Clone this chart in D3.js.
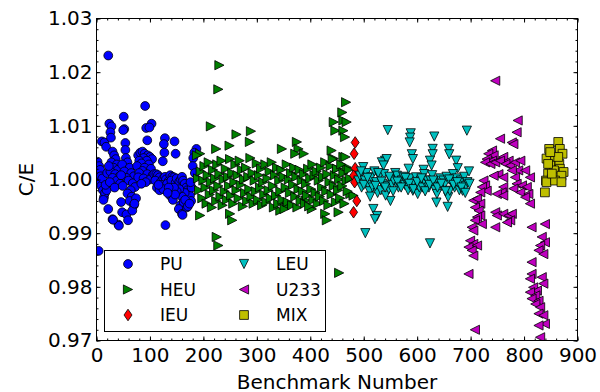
<!DOCTYPE html>
<html>
<head>
<meta charset="utf-8">
<script src="https://cdn.jsdelivr.net/npm/d3@7"></script>
<style>
  body { margin: 0; background: #fff; }
  text { font-family: "DejaVu Sans", sans-serif; fill: #000; }
</style>
</head>
<body>
<div id="chart1"></div>
<script>

// data: [benchmark number, C/E]
const puData = [
  [4,0.9867],[2,1.0033],[5,1.0025],[3,1.0012],[7,1.0018],[1,1.0000],[6,0.9994],[8,1.0006],[9,0.9988],[11,1.0002],
  [12,0.9980],[14,0.9967],[16,0.9975],[13,0.9962],[19,0.9980],[17,0.9990],[10,1.0071],[15,1.0069],[18,1.0061],[20,1.0012],
  [22,1.0231],[24,1.0104],[28,1.0099],[26,1.0088],[27,1.0078],[22,0.9945],[30,0.9926],[41,0.9916],[30,1.0052],[33,1.0045],
  [36,1.0038],[28,1.0032],[38,1.0028],[32,1.0022],[40,1.0018],[26,1.0015],[35,1.0010],[42,1.0005],[30,1.0003],[38,0.9998],
  [44,0.9992],[25,0.9995],[23,1.0025],[34,0.9985],[51,1.0117],[52,1.0094],[50,1.0092],[54,1.0068],[54,1.0055],[55,1.0040],
  [58,1.0032],[48,1.0028],[62,1.0022],[52,1.0015],[65,1.0012],[70,1.0006],[56,1.0003],[60,0.9998],[68,0.9993],[72,0.9986],
  [64,0.9980],[58,0.9974],[66,0.9968],[62,0.9960],[70,0.9952],[74,0.9965],[46,0.9958],[48,0.9939],[56,0.9935],[59,0.9924],
  [67,0.9942],[71,0.9955],[42,0.9914],[31,0.9925],[46,1.0008],[49,0.9988],[91,1.0137],[93,1.0096],[103,1.0104],[99,1.0097],
  [95,1.0073],[78,1.0045],[82,1.0050],[86,1.0052],[90,1.0048],[96,1.0045],[100,1.0042],[104,1.0038],[88,1.0040],[80,1.0035],
  [94,1.0035],[84,1.0030],[98,1.0028],[76,1.0025],[90,1.0022],[102,1.0020],[86,1.0016],[80,1.0012],[95,1.0010],[105,1.0008],
  [78,1.0004],[88,1.0002],[100,1.0000],[92,0.9995],[84,0.9992],[128,1.0077],[146,1.0071],[126,1.0066],[148,1.0048],[127,1.0050],
  [124,1.0034],[129,0.9915],[108,1.0010],[112,1.0010],[115,1.0008],[118,1.0004],[110,0.9998],[120,0.9995],[125,1.0002],[128,1.0005],
  [130,1.0000],[135,0.9997],[122,0.9990],[132,0.9992],[138,1.0008],[142,1.0005],[145,1.0004],[140,0.9998],[148,0.9994],[150,1.0002],
  [152,0.9988],[155,0.9996],[158,1.0000],[160,1.0005],[162,0.9998],[165,0.9992],[168,0.9985],[170,0.9980],[172,0.9975],[175,0.9970],
  [165,0.9975],[155,0.9982],[160,0.9968],[150,0.9978],[145,0.9985],[178,0.9985],[176,0.9995],[113,0.9985],[118,0.9980],[125,0.9982],
  [135,0.9985],[157,0.9952],[154,0.9945],[160,0.9936],[169,0.9948],[161,0.9934],[177,0.9960],[187,1.0057],[183,1.0050],[181,1.0040],
  [180,1.0025],[184,1.0012],[138,0.9970],[143,0.9962],[147,0.9972],[163,0.9958],[166,0.9962],[171,0.9950],[174,0.9955],[133,0.9975],
  [116,0.9990]
];

const heuData = [
  [230,1.0213],[228,1.0168],[214,1.0099],[262,1.0084],[289,1.0090],[287,1.0070],[249,1.0063],[224,1.0057],[194,1.0048],[188,1.0045],
  [347,1.0057],[375,1.0070],[378,1.0057],[388,1.0048],[372,1.0048],[467,1.0144],[460,1.0125],[444,1.0107],[462,1.0110],[468,1.0107],
  [447,1.0091],[462,1.0091],[465,1.0079],[440,1.0054],[444,1.0039],[462,1.0042],[468,1.0023],[450,1.0020],[194,0.9933],[250,0.9936],
  [254,0.9924],[225,0.9893],[228,0.9877],[428,0.9936],[431,0.9924],[453,0.9939],[391,0.9961],[403,0.9945],[356,0.9949],[344,0.9942],
  [454,0.9826],[475,0.9973],[481,0.9970],
  [190,1.0002],[192,0.9980],[195,1.0015],[198,0.9965],[200,0.9998],[202,1.0025],[204,0.9985],[206,0.9955],[208,1.0008],[210,1.0032],
  [212,0.9972],[214,0.9995],[216,0.9948],[218,1.0018],[220,0.9980],[222,1.0002],[224,0.9960],[226,1.0028],[228,0.9988],[230,1.0010],
  [232,0.9968],[234,1.0035],[236,0.9952],[238,1.0000],[240,0.9978],[242,1.0020],[244,0.9962],[246,1.0005],[248,0.9988],[250,1.0038],
  [252,0.9970],[254,1.0012],[256,0.9955],[258,0.9995],[260,1.0028],[262,0.9980],[264,1.0008],[266,0.9965],[268,1.0035],[270,0.9990],
  [272,1.0018],[274,0.9950],[276,1.0000],[278,0.9975],[280,1.0022],[282,0.9960],[284,1.0005],[286,0.9982],[288,1.0040],[290,0.9968],
  [292,1.0012],[294,0.9955],[296,0.9998],[298,0.9978],[300,1.0030],[302,0.9962],[304,1.0008],[306,0.9985],[308,1.0020],[310,0.9952],
  [312,0.9995],[314,0.9972],[316,1.0028],[318,0.9958],[320,1.0002],[322,0.9980],[324,1.0015],[326,0.9965],[328,1.0032],[330,0.9988],
  [332,0.9948],[334,1.0008],[336,0.9970],[338,1.0022],[340,0.9955],[342,0.9998],[344,0.9978],[346,1.0018],[348,0.9962],[350,1.0005],
  [352,0.9945],[354,0.9985],[356,1.0028],[358,0.9958],[360,1.0000],[362,0.9975],[364,1.0012],[366,0.9952],[368,0.9990],[370,1.0022],
  [372,0.9968],[374,1.0005],[376,0.9948],[378,0.9982],[380,1.0018],[382,0.9960],[384,0.9998],[386,0.9978],[388,1.0010],[390,0.9955],
  [392,0.9992],[394,0.9970],[396,1.0020],[398,0.9950],[400,1.0002],[402,0.9982],[404,1.0028],[406,0.9962],[408,1.0008],[410,0.9975],
  [412,1.0015],[414,0.9955],[416,0.9998],[418,0.9968],[420,1.0022],[422,0.9985],[424,1.0005],[426,0.9960],[428,1.0032],[430,0.9978],
  [432,1.0010],[434,0.9952],[436,0.9995],[438,1.0025],[440,0.9972],[442,1.0038],[444,0.9988],[446,1.0008],[448,0.9958],[450,1.0020],
  [452,0.9980],[454,1.0000],[456,0.9965],[458,1.0028],[460,0.9988],[462,1.0012],[464,0.9955],[466,1.0042],[468,0.9998],[470,0.9978],
  [472,1.0018],[474,1.0002]
];

const ieuData = [
  [484,1.0069],[482,1.0048],[484,1.0021],[481,1.0007],[483,0.9995],[487,0.9960],[481,0.9939]
];

const leuData = [
  [545,1.0092],[588,1.0086],[587,1.0078],[586,1.0069],[632,1.0080],[693,1.0091],[659,1.0057],[660,1.0047],[629,1.0057],[629,1.0047],
  [590,1.0047],[592,1.0038],[624,1.0035],[627,1.0026],[673,1.0035],[676,1.0021],[584,1.0020],[612,1.0018],[540,1.0035],[534,1.0032],
  [543,1.0038],[537,1.0026],[518,0.9945],[525,0.9932],[521,0.9926],[503,0.9900],[624,0.9881],[657,0.9949],[636,0.9957],[550,0.9960],
  [490,0.9998],[493,1.0007],[496,0.9985],[499,1.0023],[502,0.9998],[505,1.0012],[508,0.9990],[511,0.9978],[514,1.0004],[517,0.9985],
  [520,1.0015],[523,0.9995],[526,0.9975],[529,1.0006],[532,0.9980],[535,0.9992],[538,1.0010],[541,0.9970],[544,0.9988],[547,0.9982],
  [550,1.0000],[553,0.9990],[556,0.9998],[559,1.0012],[562,1.0007],[565,0.9985],[568,0.9995],[571,0.9998],[574,1.0005],[577,0.9990],
  [580,0.9995],[583,0.9980],[586,1.0002],[589,0.9985],[592,0.9979],[595,0.9992],[598,1.0004],[601,0.9973],[604,0.9985],[607,0.9998],
  [610,0.9985],[613,1.0010],[616,0.9992],[619,0.9998],[622,0.9985],[625,0.9998],[628,1.0008],[631,0.9990],[634,0.9980],[637,0.9973],
  [640,0.9995],[643,1.0002],[646,0.9988],[649,0.9998],[652,0.9992],[655,1.0005],[658,0.9967],[661,0.9979],[664,0.9995],[667,1.0010],
  [670,0.9985],[673,1.0002],[676,0.9992],[679,0.9980],[682,0.9998],[685,0.9979],[688,1.0005],[691,0.9988],[694,0.9995],[697,1.0015],
  [495,1.0015],[500,0.9990],[507,1.0003],[512,0.9968],[522,0.9988],[527,1.0012],[533,0.9996],[540,0.9985],[548,1.0005],[555,0.9978],
  [563,0.9996],[570,0.9985],[578,1.0003],[585,0.9992],[593,0.9982],[600,0.9995],[608,1.0002],[615,0.9978],[623,0.9990],[630,0.9998],
  [638,0.9985],[645,0.9992],[653,0.9978],[660,1.0000],[668,0.9990],[675,0.9995],[683,0.9985],[690,0.9975],[698,0.9992]
];

const u233Data = [
  [746,1.0184],[788,1.0110],[786,1.0088],[755,1.0076],[777,1.0069],[780,1.0066],[740,1.0054],[733,1.0048],[743,1.0045],[730,1.0038],
  [740,1.0035],[727,1.0032],[737,1.0029],[746,1.0032],[761,1.0042],[755,1.0035],[771,1.0035],[765,1.0029],[774,1.0026],[783,1.0032],
  [793,1.0035],[789,1.0017],[802,1.0017],[811,1.0004],[777,1.0017],[752,1.0010],[743,1.0007],[761,1.0004],[783,1.0004],[786,0.9992],
  [796,0.9989],[805,0.9986],[780,0.9983],[793,0.9976],[808,0.9973],[802,0.9967],[811,0.9955],[761,0.9986],[758,0.9976],[749,0.9973],
  [761,0.9970],[724,0.9998],[727,0.9989],[721,0.9986],[730,0.9979],[718,0.9976],
  [705,0.9961],[712,0.9964],[718,0.9955],[708,0.9948],[715,0.9942],[718,0.9933],[712,0.9930],[708,0.9924],[721,0.9917],[702,0.9911],
  [705,0.9905],[699,0.9886],[705,0.9880],[696,0.9874],[712,0.9877],[702,0.9868],[705,0.9858],[696,0.9824],[708,0.9720],
  [746,0.9939],[749,0.9933],[761,0.9936],[771,0.9933],[777,0.9936],[774,0.9924],[768,0.9920],[746,0.9911],
  [814,0.9911],[839,0.9917],[833,0.9893],[839,0.9883],[830,0.9877],[827,0.9868],[836,0.9861],[814,0.9846],[814,0.9824],[833,0.9818],
  [811,0.9815],[836,0.9806],[817,0.9799],[824,0.9793],[811,0.9790],[821,0.9784],[814,0.9778],[827,0.9774],[821,0.9768],[830,0.9762],
  [827,0.9750],[836,0.9747],[839,0.9731],[827,0.9728],[830,0.9706]
];

const mixData = [
  [864,1.0070],[847,1.0057],[867,1.0057],[872,1.0048],[852,1.0042],[842,1.0039],[858,1.0035],[866,1.0029],[849,1.0026],[867,1.0020],
  [856,1.0017],[874,1.0014],[845,1.0011],[841,0.9998],[852,1.0001],[861,1.0004],[870,1.0007],[842,0.9995],[858,0.9998],[870,0.9995],
  [839,0.9976],[852,1.0011],[864,1.0042],[849,1.0051],[845,1.0029]
];

const seriesNames = ["PU", "HEU", "IEU", "LEU", "U233", "MIX"];
const xTicks = [0, 100, 200, 300, 400, 500, 600, 700, 800, 900];
const yTicks = [0.97, 0.98, 0.99, 1.00, 1.01, 1.02, 1.03];

const width = 600;
const height = 392;
const margin = {top: 18.5, right: 22.5, bottom: 51.5, left: 96.5};
const innerW = width - margin.left - margin.right;
const innerH = height - margin.top - margin.bottom;

const series = [
  {name: seriesNames[0], data: puData,   shape: "circle",  color: "#0000ff"},
  {name: seriesNames[1], data: heuData,  shape: "right",   color: "#008000"},
  {name: seriesNames[2], data: ieuData,  shape: "diamond", color: "#ff0000"},
  {name: seriesNames[3], data: leuData,  shape: "down",    color: "#00bfbf"},
  {name: seriesNames[4], data: u233Data, shape: "left",    color: "#bf00bf"},
  {name: seriesNames[5], data: mixData,  shape: "square",  color: "#bfbf00"}
];

// marker outlines (matplotlib-like shapes)
function markerPath(shape) {
  const h = 4.6;
  switch (shape) {
    case "circle": return d3.symbol(d3.symbolCircle, Math.PI * 4.4 * 4.4)();
    case "right": return `M${h},0L${-h},${-h}L${-h},${h}Z`;
    case "left": return `M${-h},0L${h},${-h}L${h},${h}Z`;
    case "down": return `M0,${h}L${-h},${-h}L${h},${-h}Z`;
    case "diamond": return "M0,-5.8L4,0L0,5.8L-4,0Z";
    case "square": return "M-4.4,-4.4H4.4V4.4H-4.4Z";
  }
}

const svg = d3.select("#chart1").append("svg")
    .attr("width", width)
    .attr("height", height);

const g = svg.append("g")
    .attr("transform", "translate(" + margin.left + "," + margin.top + ")");

const x = d3.scaleLinear().domain([0, 900]).range([0, innerW]);
const y = d3.scaleLinear().domain([0.97, 1.03]).range([innerH, 0]);

// clip to the axes box
g.append("defs").append("clipPath")
    .attr("id", "clip")
  .append("rect")
    .attr("width", innerW)
    .attr("height", innerH);

const plot = g.append("g").attr("clip-path", "url(#clip)");

series.forEach(s => {
  plot.append("g").selectAll("path")
    .data(s.data)
    .join("path")
      .attr("d", markerPath(s.shape))
      .attr("transform", d => "translate(" + x(d[0]) + "," + y(d[1]) + ")")
      .attr("fill", s.color)
      .attr("stroke", "#000")
      .attr("stroke-width", 0.8);
});

// axes: ticks pointing inward on all four sides
const xMinor = d3.range(0, 901, 20);
const yMinor = d3.range(0, 31).map(i => 0.97 + i * 0.002);

function styleAxis(sel) {
  sel.select(".domain").remove();
  sel.selectAll("line").attr("stroke", "#000").attr("stroke-width", 1);
  sel.selectAll("text").attr("font-size", 20).attr("fill", "#000")
     .attr("font-family", "DejaVu Sans, sans-serif");
}

g.append("g").attr("transform", "translate(0," + innerH + ")")
  .call(d3.axisBottom(x).tickValues(xTicks).tickSize(-4).tickPadding(7).tickFormat(d3.format("d")))
  .call(styleAxis);
g.append("g").attr("transform", "translate(0," + innerH + ")")
  .call(d3.axisBottom(x).tickValues(xMinor).tickSize(-2).tickFormat(""))
  .call(styleAxis);
g.append("g")
  .call(d3.axisTop(x).tickValues(xTicks).tickSize(-4).tickFormat(""))
  .call(styleAxis);
g.append("g")
  .call(d3.axisTop(x).tickValues(xMinor).tickSize(-2).tickFormat(""))
  .call(styleAxis);

g.append("g")
  .call(d3.axisLeft(y).tickValues(yTicks).tickSize(-4).tickPadding(4).tickFormat(d3.format(".2f")))
  .call(styleAxis);
g.append("g")
  .call(d3.axisLeft(y).tickValues(yMinor).tickSize(-2).tickFormat(""))
  .call(styleAxis);
g.append("g").attr("transform", "translate(" + innerW + ",0)")
  .call(d3.axisRight(y).tickValues(yTicks).tickSize(-4).tickFormat(""))
  .call(styleAxis);
g.append("g").attr("transform", "translate(" + innerW + ",0)")
  .call(d3.axisRight(y).tickValues(yMinor).tickSize(-2).tickFormat(""))
  .call(styleAxis);

// frame
g.append("rect")
    .attr("width", innerW)
    .attr("height", innerH)
    .attr("fill", "none")
    .attr("stroke", "#000")
    .attr("stroke-width", 1);

// axis labels
svg.append("text")
    .attr("x", margin.left + innerW / 2)
    .attr("y", 388.5)
    .attr("text-anchor", "middle")
    .attr("font-size", 20)
    .text("Benchmark Number");

svg.append("text")
    .attr("transform", "translate(33," + (margin.top + innerH / 2) + ") rotate(-90)")
    .attr("text-anchor", "middle")
    .attr("font-size", 20)
    .text("C/E");

// legend, two columns
const legend = svg.append("g");
legend.append("rect")
    .attr("x", 104.5).attr("y", 250.5)
    .attr("width", 221).attr("height", 81)
    .attr("fill", "#fff")
    .attr("stroke", "#000")
    .attr("stroke-width", 1);

series.forEach((s, i) => {
  const col = Math.floor(i / 3), row = i % 3;
  const lx = 128 + col * 116, ly = 264 + row * 25.5;
  legend.append("path")
      .attr("d", markerPath(s.shape))
      .attr("transform", "translate(" + lx + "," + ly + ")")
      .attr("fill", s.color)
      .attr("stroke", "#000")
      .attr("stroke-width", 0.8);
  legend.append("text")
      .attr("x", lx + 32)
      .attr("y", ly + 6.2)
      .attr("font-size", 17)
      .text(s.name);
});

</script>
</body>
</html>
